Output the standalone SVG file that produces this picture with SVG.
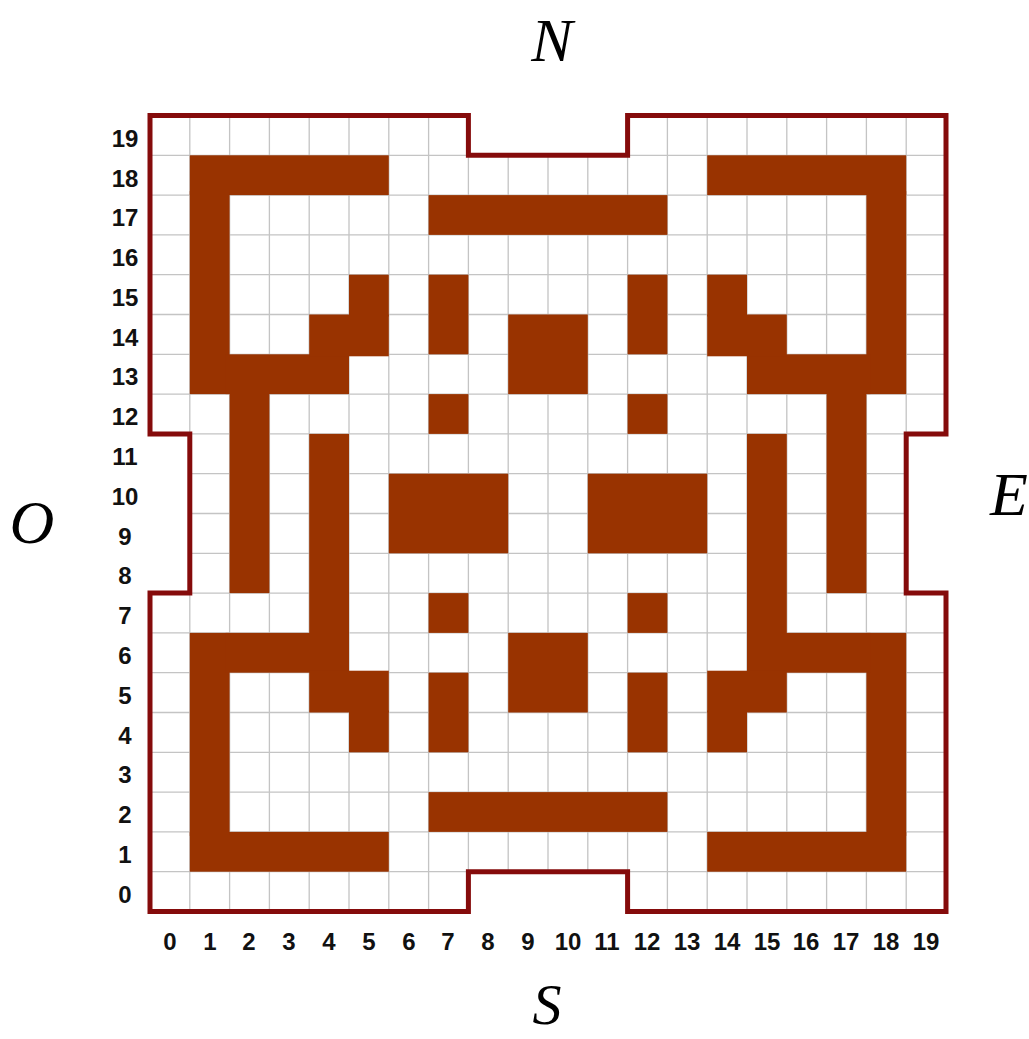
<svg xmlns="http://www.w3.org/2000/svg" width="1029" height="1039" viewBox="0 0 1029 1039">
  <style>
    .num { font-family: "Liberation Sans", Arial, sans-serif; font-weight: bold; font-size: 24px; fill: #111; text-anchor: middle; }
    .dir { font-family: "Liberation Serif", "Times New Roman", serif; font-style: italic; font-size: 62px; fill: #000; }
    .grid { fill: none; stroke: #c4c4c4; stroke-width: 1.3; vector-effect: non-scaling-stroke; }
    .cell { fill: #993300; }
    .border { fill: none; stroke: #850b0b; stroke-width: 5; stroke-linejoin: miter; vector-effect: non-scaling-stroke; }
  </style>
  <rect width="1029" height="1039" fill="#ffffff"/>
  <g id="board" transform="translate(150,115.5) scale(39.8)">
    <path class="grid" d="M1,0V20M2,0V20M3,0V20M4,0V20M5,0V20M6,0V20M7,0V20M8,0V20M9,0V20M10,0V20M11,0V20M12,0V20M13,0V20M14,0V20M15,0V20M16,0V20M17,0V20M18,0V20M19,0V20M0,1H20M0,2H20M0,3H20M0,4H20M0,5H20M0,6H20M0,7H20M0,8H20M0,9H20M0,10H20M0,11H20M0,12H20M0,13H20M0,14H20M0,15H20M0,16H20M0,17H20M0,18H20M0,19H20"/>
    <g id="notches" fill="#ffffff">
      <rect x="8" y="-0.1" width="4" height="1.1"/>
      <rect x="8" y="19" width="4" height="1.1"/>
      <rect x="-0.1" y="8" width="1.1" height="4"/>
      <rect x="19" y="8" width="1.1" height="4"/>
    </g>
    <g id="top-left" class="cell">
      <rect x="1" y="1" width="5" height="1"/>
      <rect x="1" y="1.9" width="1" height="5.1"/>
      <rect x="1.9" y="6" width="3.1" height="1"/>
      <rect x="4" y="5" width="2" height="1.05"/>
      <rect x="5" y="4" width="1" height="1.05"/>
      <rect x="2" y="6.9" width="1" height="5.1"/>
    </g>
    <g id="bottom-left" class="cell">
      <rect x="1" y="18" width="5" height="1"/>
      <rect x="1" y="13" width="1" height="5.1"/>
      <rect x="1.9" y="13" width="3.1" height="1"/>
      <rect x="4" y="13.95" width="2" height="1.05"/>
      <rect x="5" y="14.95" width="1" height="1.05"/>
      <rect x="4" y="8" width="1" height="5.1"/>
    </g>
    <g id="top-right" class="cell">
      <rect x="14" y="1" width="5" height="1"/>
      <rect x="18" y="1.9" width="1" height="5.1"/>
      <rect x="15" y="6" width="3.1" height="1"/>
      <rect x="14" y="5" width="2" height="1.05"/>
      <rect x="14" y="4" width="1" height="1.05"/>
      <rect x="17" y="6.9" width="1" height="5.1"/>
    </g>
    <g id="bottom-right" class="cell">
      <rect x="14" y="18" width="5" height="1"/>
      <rect x="18" y="13" width="1" height="5.1"/>
      <rect x="15" y="13" width="3.1" height="1"/>
      <rect x="14" y="13.95" width="2" height="1.05"/>
      <rect x="14" y="14.95" width="1" height="1.05"/>
      <rect x="15" y="8" width="1" height="5.1"/>
    </g>
    <g id="center" class="cell">
      <rect x="7" y="2" width="6" height="1"/>
      <rect x="7" y="17" width="6" height="1"/>
      <rect x="7" y="4" width="1" height="2"/>
      <rect x="12" y="4" width="1" height="2"/>
      <rect x="7" y="7" width="1" height="1"/>
      <rect x="12" y="7" width="1" height="1"/>
      <rect x="7" y="12" width="1" height="1"/>
      <rect x="12" y="12" width="1" height="1"/>
      <rect x="7" y="14" width="1" height="2"/>
      <rect x="12" y="14" width="1" height="2"/>
      <rect x="9" y="5" width="2" height="2"/>
      <rect x="9" y="13" width="2" height="2"/>
      <rect x="6" y="9" width="3" height="2"/>
      <rect x="11" y="9" width="3" height="2"/>
    </g>
    <path id="outline" class="border" d="M0,0H8V1H12V0H20V8H19V12H20V20H12V19H8V20H0V12H1V8H0Z"/>
  </g>
  <g id="row-labels" class="num">
    <text x="125" y="147">19</text>
    <text x="125" y="187">18</text>
    <text x="125" y="226">17</text>
    <text x="125" y="266">16</text>
    <text x="125" y="306">15</text>
    <text x="125" y="346">14</text>
    <text x="125" y="385">13</text>
    <text x="125" y="425">12</text>
    <text x="125" y="465">11</text>
    <text x="125" y="505">10</text>
    <text x="125" y="545">9</text>
    <text x="125" y="584">8</text>
    <text x="125" y="624">7</text>
    <text x="125" y="664">6</text>
    <text x="125" y="704">5</text>
    <text x="125" y="744">4</text>
    <text x="125" y="783">3</text>
    <text x="125" y="823">2</text>
    <text x="125" y="863">1</text>
    <text x="125" y="903">0</text>
  </g>
  <g id="col-labels" class="num">
    <text x="170" y="950">0</text>
    <text x="210" y="950">1</text>
    <text x="249" y="950">2</text>
    <text x="289" y="950">3</text>
    <text x="329" y="950">4</text>
    <text x="369" y="950">5</text>
    <text x="409" y="950">6</text>
    <text x="448" y="950">7</text>
    <text x="488" y="950">8</text>
    <text x="528" y="950">9</text>
    <text x="568" y="950">10</text>
    <text x="607" y="950">11</text>
    <text x="647" y="950">12</text>
    <text x="687" y="950">13</text>
    <text x="727" y="950">14</text>
    <text x="767" y="950">15</text>
    <text x="806" y="950">16</text>
    <text x="846" y="950">17</text>
    <text x="886" y="950">18</text>
    <text x="926" y="950">19</text>
  </g>
  <g id="directions" class="dir">
    <text x="552" y="61" text-anchor="middle">N</text>
    <text x="32" y="543" text-anchor="middle">O</text>
    <text x="990" y="515" text-anchor="start">E</text>
    <text x="547" y="1024" text-anchor="middle" font-size="58">S</text>
  </g>
</svg>
